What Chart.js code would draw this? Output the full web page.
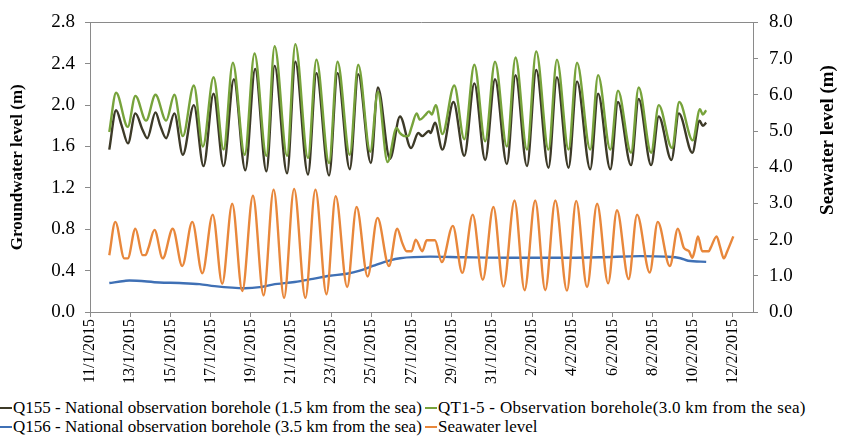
<!DOCTYPE html>
<html>
<head>
<meta charset="utf-8">
<script src="https://cdn.jsdelivr.net/npm/chart.js@4.4.1/dist/chart.umd.min.js"></script>
<style>
  html, body { margin: 0; padding: 0; background: #fff; }
  #wrap { position: relative; width: 841px; height: 436px; overflow: hidden; }
  #box { position: absolute; left: 0; top: 0; width: 841px; height: 392px; }
  #legend { position: absolute; left: 0; top: 398px; width: 841px; font-family: 'Liberation Serif', 'Times New Roman', serif; font-size: 17px; color: #000; }
  .item { position: absolute; white-space: nowrap; line-height: 19px; }
  .mk { display: inline-block; width: 12px; height: 2px; vertical-align: middle; margin-right: 1px; position: relative; top: -1px; }
</style>
</head>
<body>
<div id="wrap">
  <div id="box"><canvas id="c"></canvas></div>
  <div id="legend"></div>
</div>
<script>
// ---- x axis: days since 11/1/2015 ----
const xTickDays = [0, 2, 4, 6, 8, 10, 12, 14, 16, 18, 20, 22, 24, 26, 28, 30, 32];
const xTickLabels = ['11/1/2015','13/1/2015','15/1/2015','17/1/2015','19/1/2015','21/1/2015','23/1/2015','25/1/2015','27/1/2015','29/1/2015','31/1/2015','2/2/2015','4/2/2015','6/2/2015','8/2/2015','10/2/2015','12/2/2015'];
const leftTicks = [0, 0.4, 0.8, 1.2, 1.6, 2.0, 2.4, 2.8];
const leftTickLabels = ['0.0','0.4','0.8','1.2','1.6','2.0','2.4','2.8'];
const rightTicks = [0, 1, 2, 3, 4, 5, 6, 7, 8];
const rightTickLabels = ['0.0','1.0','2.0','3.0','4.0','5.0','6.0','7.0','8.0'];
const leftTitle = 'Groundwater level (m)';
const rightTitle = 'Seawater level (m)';

const seriesNames = [
  'Q155 - National observation borehole (1.5 km from the sea)',
  'QT1-5 - Observation borehole(3.0 km from the sea)',
  'Q156 - National observation borehole (3.5 km from the sea)',
  'Seawater level'
];

// Q155 groundwater level (m), left axis
const q155Days = [0.96,1.30,1.58,1.89,2.26,2.62,2.85,3.26,3.50,3.79,4.20,4.62,5.17,5.65,6.15,6.65,7.16,7.73,8.22,8.78,9.19,9.81,10.22,10.85,11.27,11.90,12.32,12.93,13.35,13.98,14.33,14.93,15.43,15.98,16.34,16.54,16.87,16.95,17.17,17.54,18.09,18.63,19.13,19.67,20.16,20.75,21.18,21.75,22.21,22.82,23.24,23.82,24.24,24.90,25.29,25.90,26.28,26.93,27.31,27.93,28.31,28.94,29.31,29.98,30.34,30.50,30.67];
const q155Level = [1.57,1.95,1.80,1.63,1.92,1.76,1.68,1.93,1.80,1.68,1.92,1.52,2.00,1.41,2.11,1.41,2.25,1.37,2.35,1.36,2.38,1.34,2.42,1.33,2.31,1.32,2.31,1.38,2.30,1.44,2.17,1.48,1.89,1.585,1.73,1.70,1.75,1.73,1.83,1.57,2.03,1.51,2.21,1.47,2.25,1.43,2.29,1.41,2.34,1.395,2.27,1.395,2.23,1.38,2.11,1.38,2.03,1.42,2.06,1.42,1.89,1.47,1.92,1.54,1.85,1.80,1.83];

// QT1-5 groundwater level (m), left axis
const qt15Days = [0.96,1.30,1.88,2.26,2.79,3.26,3.79,4.20,4.62,5.17,5.62,6.15,6.65,7.11,7.70,8.19,8.78,9.19,9.81,10.22,10.85,11.27,11.90,12.32,12.93,13.35,13.95,14.33,14.81,15.26,15.43,15.68,15.84,16.01,16.26,16.42,16.67,16.87,17.01,17.21,17.54,18.13,18.63,19.13,19.67,20.16,20.75,21.18,21.75,22.21,22.82,23.24,23.82,24.24,24.90,25.29,25.90,26.28,26.93,27.31,27.93,28.31,28.97,29.33,30.00,30.36,30.50,30.67];
const qt15Level = [1.74,2.12,1.79,2.09,1.85,2.10,1.85,2.10,1.70,2.19,1.60,2.27,1.57,2.41,1.52,2.50,1.51,2.57,1.51,2.59,1.49,2.44,1.44,2.42,1.52,2.39,1.55,2.13,1.45,1.78,1.73,1.70,1.70,1.79,1.92,1.86,1.90,1.94,1.91,2.00,1.72,2.19,1.67,2.39,1.65,2.42,1.60,2.46,1.57,2.52,1.57,2.44,1.57,2.41,1.57,2.29,1.57,2.14,1.54,2.17,1.54,2.00,1.585,2.03,1.66,1.96,1.91,1.95];

// Q156 groundwater level (m), left axis
const q156Days = [0.96,1.71,1.96,3.46,4.45,5.45,6.20,7.70,8.45,9.09,10.19,11.09,11.93,12.78,13.43,14.08,14.93,15.43,16.93,18.57,21.06,23.25,25.40,27.40,28.64,29.39,29.77,30.67];
const q156Level = [0.28,0.30,0.305,0.285,0.28,0.27,0.25,0.23,0.24,0.265,0.29,0.32,0.35,0.37,0.40,0.445,0.50,0.52,0.535,0.53,0.525,0.525,0.53,0.54,0.535,0.52,0.495,0.485];

// Seawater level (m), right axis
const seaDays = [0.96,1.26,1.71,1.88,2.26,2.62,2.76,2.91,3.21,3.62,4.12,4.59,5.09,5.59,6.11,6.58,7.08,7.58,8.11,8.64,9.14,9.66,10.16,10.72,11.22,11.77,12.23,12.80,13.27,13.82,14.31,14.88,15.29,15.54,15.76,16.01,16.21,16.54,16.76,17.17,17.51,18.06,18.53,19.05,19.55,20.08,20.58,21.13,21.63,22.16,22.66,23.16,23.74,24.20,24.74,25.24,25.79,26.23,26.81,27.23,27.86,28.26,28.86,29.26,29.56,29.81,29.98,30.09,30.26,30.47,30.80,30.89,31.19,31.35,31.55,31.72,32.02];
const seaLevel = [1.57,2.49,1.48,1.48,2.30,1.57,1.57,1.77,2.27,1.48,2.30,1.27,2.49,1.07,2.69,0.78,2.99,0.58,3.21,0.46,3.38,0.39,3.40,0.39,3.38,0.49,3.20,0.69,2.90,0.98,2.60,1.27,2.30,1.91,1.68,1.68,2.00,1.68,1.98,1.98,1.38,2.38,1.08,2.69,0.89,2.90,0.70,3.08,0.60,3.08,0.60,3.08,0.59,3.07,0.69,2.99,0.79,2.81,0.91,2.69,1.09,2.49,1.27,2.30,1.77,1.68,1.50,1.68,2.09,1.68,1.68,1.77,2.09,1.82,1.48,1.68,2.09];

const colors = ['#3d3a28', '#77a33b', '#3f70b5', '#e8873b'];
const axisColor = '#8a8a8a';
const FONT = "'Liberation Serif', 'Times New Roman', serif";

function pts(xs, ys) { return xs.map((x, i) => ({ x: x, y: ys[i] })); }

// top frame line and the right axis title (reads bottom-to-top as in the reference)
const extras = {
  id: 'extras',
  afterDraw(chart) {
    const a = chart.chartArea, ctx = chart.ctx;
    ctx.save();
    ctx.strokeStyle = axisColor;
    ctx.lineWidth = 1;
    ctx.beginPath();
    ctx.moveTo(a.left, Math.round(a.top) + 0.5);
    ctx.lineTo(a.right, Math.round(a.top) + 0.5);
    ctx.stroke();
    ctx.translate(828, 140);
    ctx.rotate(-Math.PI / 2);
    ctx.fillStyle = '#000';
    ctx.font = "bold 19px " + FONT;
    ctx.textAlign = 'center';
    ctx.textBaseline = 'middle';
    ctx.fillText(rightTitle, 0, 0);
    ctx.restore();
  }
};

const common = { pointRadius: 0, borderWidth: 2.4, cubicInterpolationMode: 'monotone', fill: false };

new Chart(document.getElementById('c'), {
  type: 'line',
  data: {
    datasets: [
      Object.assign({ label: seriesNames[3], data: pts(seaDays, seaLevel), borderColor: colors[3], yAxisID: 'y2', order: 0 }, common),
      Object.assign({ label: seriesNames[2], data: pts(q156Days, q156Level), borderColor: colors[2], yAxisID: 'y', order: 1 }, common),
      Object.assign({ label: seriesNames[1], data: pts(qt15Days, qt15Level), borderColor: colors[1], yAxisID: 'y', order: 2 }, common),
      Object.assign({ label: seriesNames[0], data: pts(q155Days, q155Level), borderColor: colors[0], yAxisID: 'y', order: 3 }, common)
    ]
  },
  options: {
    responsive: true,
    maintainAspectRatio: false,
    animation: false,
    layout: { padding: { top: 17, left: 0, right: 0, bottom: 0 } },
    plugins: { legend: { display: false }, tooltip: { enabled: false } },
    scales: {
      x: {
        type: 'linear', position: 'bottom', min: 0, max: 33,
        afterBuildTicks: s => { s.ticks = xTickDays.map(v => ({ value: v })); },
        afterFit: s => { s.height = 80; },
        ticks: {
          autoSkip: false, minRotation: 90, maxRotation: 90, padding: 2, color: '#000',
          font: { family: FONT, size: 16 },
          callback: (v) => { const i = xTickDays.indexOf(v); return i >= 0 ? xTickLabels[i] : ''; }
        },
        grid: { display: true, drawOnChartArea: false, tickLength: 5, color: axisColor },
        border: { display: true, color: axisColor, width: 1 }
      },
      y: {
        type: 'linear', position: 'left', min: 0, max: 2.8,
        afterBuildTicks: s => { s.ticks = leftTicks.map(v => ({ value: v })); },
        afterFit: s => { s.width = 90; },
        ticks: {
          padding: 10, color: '#000', font: { family: FONT, size: 19 },
          callback: (v) => { const i = leftTicks.findIndex(t => Math.abs(t - v) < 1e-6); return i >= 0 ? leftTickLabels[i] : ''; }
        },
        grid: { display: true, drawOnChartArea: false, tickLength: 5, color: axisColor },
        border: { display: true, color: axisColor, width: 1 },
        title: { display: true, text: leftTitle, color: '#000', font: { family: FONT, size: 17, weight: 'bold' }, padding: { top: 7, bottom: 4 } }
      },
      y2: {
        type: 'linear', position: 'right', min: 0, max: 8,
        afterBuildTicks: s => { s.ticks = rightTicks.map(v => ({ value: v })); },
        afterFit: s => { s.width = 88; },
        ticks: {
          padding: 11, color: '#000', font: { family: FONT, size: 19 },
          callback: (v) => { const i = rightTicks.indexOf(v); return i >= 0 ? rightTickLabels[i] : ''; }
        },
        grid: { display: true, drawOnChartArea: false, tickLength: 5, color: axisColor },
        border: { display: true, color: axisColor, width: 1 }
      }
    }
  },
  plugins: [extras]
});

// HTML legend in two columns, like the reference
const legendPos = [
  { idx: 0, left: 0, top: 0 },
  { idx: 1, left: 425, top: 0 },
  { idx: 2, left: 0, top: 19 },
  { idx: 3, left: 425, top: 19 }
];
const lg = document.getElementById('legend');
legendPos.forEach(p => {
  const d = document.createElement('div');
  d.className = 'item';
  d.style.left = p.left + 'px';
  d.style.top = p.top + 'px';
  if (p.idx === 1) d.style.letterSpacing = '0.3px';
  const m = document.createElement('span');
  m.className = 'mk';
  m.style.background = colors[p.idx];
  d.appendChild(m);
  d.appendChild(document.createTextNode(seriesNames[p.idx]));
  lg.appendChild(d);
});
</script>
</body>
</html>
